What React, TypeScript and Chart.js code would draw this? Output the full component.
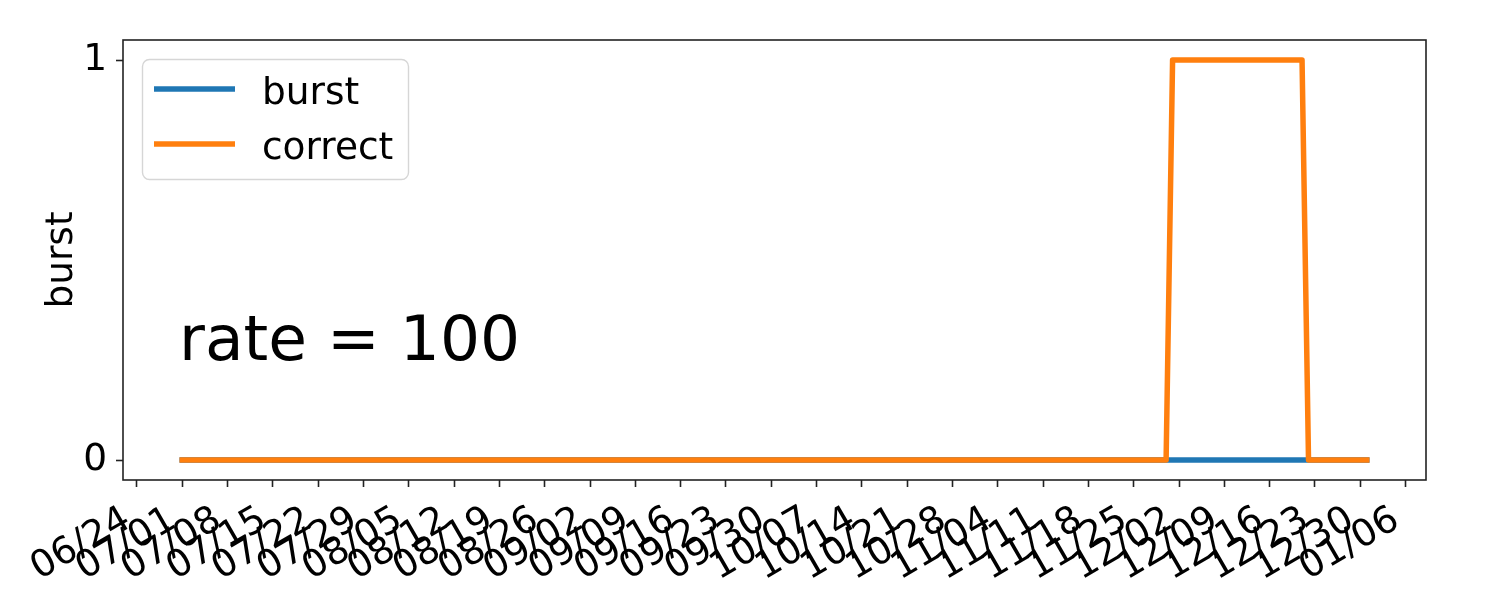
import React, { useEffect, useRef } from "react";
import { Chart, registerables } from "chart.js";

Chart.register(...registerables);

// ---- data (daily values, first day = startDate) ----
const startDate = "2019-07-01";
const seriesNames = ["burst", "correct"];
const seriesColors = ["#1f77b4", "#ff7f0e"];

const burst = [
  // Jul
  0,0,0,0,0,0,0,0,0,0, 0,0,0,0,0,0,0,0,0,0, 0,0,0,0,0,0,0,0,0,0, 0,
  // Aug
  0,0,0,0,0,0,0,0,0,0, 0,0,0,0,0,0,0,0,0,0, 0,0,0,0,0,0,0,0,0,0, 0,
  // Sep
  0,0,0,0,0,0,0,0,0,0, 0,0,0,0,0,0,0,0,0,0, 0,0,0,0,0,0,0,0,0,0,
  // Oct
  0,0,0,0,0,0,0,0,0,0, 0,0,0,0,0,0,0,0,0,0, 0,0,0,0,0,0,0,0,0,0, 0,
  // Nov
  0,0,0,0,0,0,0,0,0,0, 0,0,0,0,0,0,0,0,0,0, 0,0,0,0,0,0,0,0,0,0,
  // Dec
  0,0,0,0,0,0,0,0,0,0, 0,0,0,0,0,0,0,0,0,0, 0,0,0,0,0,0,0,0,0,0, 0,
];

const correct = [
  // Jul
  0,0,0,0,0,0,0,0,0,0, 0,0,0,0,0,0,0,0,0,0, 0,0,0,0,0,0,0,0,0,0, 0,
  // Aug
  0,0,0,0,0,0,0,0,0,0, 0,0,0,0,0,0,0,0,0,0, 0,0,0,0,0,0,0,0,0,0, 0,
  // Sep
  0,0,0,0,0,0,0,0,0,0, 0,0,0,0,0,0,0,0,0,0, 0,0,0,0,0,0,0,0,0,0,
  // Oct
  0,0,0,0,0,0,0,0,0,0, 0,0,0,0,0,0,0,0,0,0, 0,0,0,0,0,0,0,0,0,0, 0,
  // Nov
  0,0,0,0,0,0,0,0,0,0, 0,0,0,0,0,0,0,0,0,0, 0,0,0,0,0,0,0,0,0,0,
  // Dec
  1,1,1,1,1,1,1,1,1,1, 1,1,1,1,1,1,1,1,1,1, 1,0,0,0,0,0,0,0,0,0, 0,
];

const tickDates = [
  "2019-06-24", "2019-07-01", "2019-07-08", "2019-07-15", "2019-07-22",
  "2019-07-29", "2019-08-05", "2019-08-12", "2019-08-19", "2019-08-26",
  "2019-09-02", "2019-09-09", "2019-09-16", "2019-09-23", "2019-09-30",
  "2019-10-07", "2019-10-14", "2019-10-21", "2019-10-28", "2019-11-04",
  "2019-11-11", "2019-11-18", "2019-11-25", "2019-12-02", "2019-12-09",
  "2019-12-16", "2019-12-23", "2019-12-30", "2020-01-06",
];
const tickLabels = [
  "06/24", "07/01", "07/08", "07/15", "07/22",
  "07/29", "08/05", "08/12", "08/19", "08/26",
  "09/02", "09/09", "09/16", "09/23", "09/30",
  "10/07", "10/14", "10/21", "10/28", "11/04",
  "11/11", "11/18", "11/25", "12/02", "12/09",
  "12/16", "12/23", "12/30", "01/06",
];
const yTicks = [0, 1];
const yTitle = "burst";
const annotation = "rate = 100";

const FONT = "'DejaVu Sans', 'Liberation Sans', sans-serif";
const FS = 37.5;
const DAY = 86400000;
const dayNum = (s: string) =>
  Date.UTC(+s.slice(0, 4), +s.slice(5, 7) - 1, +s.slice(8, 10)) / DAY;

const overlay = {
  id: "overlay",
  afterDraw(chart: any) {
    const { ctx, chartArea: a, scales } = chart;
    ctx.save();
    // frame (spines)
    ctx.strokeStyle = "#222";
    ctx.lineWidth = 1.6;
    ctx.strokeRect(a.left, a.top, a.right - a.left, a.bottom - a.top);

    // annotation text
    ctx.fillStyle = "#000";
    ctx.font = `63px ${FONT}`;
    ctx.textAlign = "left";
    ctx.textBaseline = "alphabetic";
    ctx.fillText(annotation, a.left + 56, scales.y.getPixelForValue(0.25));

    // legend
    const bx = a.left + 19.5;
    const by = a.top + 19.5;
    const bw = 266;
    const bh = 120;
    const r = 7;
    ctx.beginPath();
    ctx.moveTo(bx + r, by);
    ctx.lineTo(bx + bw - r, by);
    ctx.arcTo(bx + bw, by, bx + bw, by + r, r);
    ctx.lineTo(bx + bw, by + bh - r);
    ctx.arcTo(bx + bw, by + bh, bx + bw - r, by + bh, r);
    ctx.lineTo(bx + r, by + bh);
    ctx.arcTo(bx, by + bh, bx, by + bh - r, r);
    ctx.lineTo(bx, by + r);
    ctx.arcTo(bx, by, bx + r, by, r);
    ctx.closePath();
    ctx.fillStyle = "rgba(255,255,255,0.8)";
    ctx.fill();
    ctx.strokeStyle = "#d6d6d6";
    ctx.lineWidth = 1.4;
    ctx.stroke();

    ctx.font = `${FS}px ${FONT}`;
    seriesNames.forEach((name, i) => {
      const ly = a.top + 49 + i * 55;
      ctx.strokeStyle = seriesColors[i];
      ctx.lineWidth = 5.5;
      ctx.lineCap = "butt";
      ctx.beginPath();
      ctx.moveTo(a.left + 31, ly);
      ctx.lineTo(a.left + 112, ly);
      ctx.stroke();
      ctx.fillStyle = "#000";
      ctx.fillText(name, a.left + 139, ly + 14.5);
    });
    ctx.restore();
  },
};

export default function App() {
  const ref = useRef<HTMLCanvasElement | null>(null);

  useEffect(() => {
    if (!ref.current) return;
    const x0 = dayNum(startDate);
    const mk = (vals: number[]) => vals.map((v, i) => ({ x: x0 + i, y: v }));
    const xFirst = x0;
    const xLast = x0 + correct.length - 1;
    const span = xLast - xFirst;
    const tickVals = tickDates.map(dayNum);

    const chart = new Chart(ref.current, {
      type: "line",
      data: {
        datasets: [
          {
            label: seriesNames[0],
            data: mk(burst),
            borderColor: seriesColors[0],
            backgroundColor: seriesColors[0],
            borderWidth: 5.5,
            pointRadius: 0,
            tension: 0,
            borderCapStyle: "square",
            borderJoinStyle: "round",
            order: 1,
          },
          {
            label: seriesNames[1],
            data: mk(correct),
            borderColor: seriesColors[1],
            backgroundColor: seriesColors[1],
            borderWidth: 5.5,
            pointRadius: 0,
            tension: 0,
            borderCapStyle: "square",
            borderJoinStyle: "round",
            order: 0,
          },
        ],
      },
      options: {
        responsive: false,
        animation: false,
        parsing: false as any,
        layout: { padding: { left: 0, top: 40, right: 74, bottom: 0 } },
        plugins: {
          legend: { display: false },
          tooltip: { enabled: false },
        },
        scales: {
          x: {
            type: "linear",
            min: xFirst - 0.05 * span,
            max: xLast + 0.05 * span,
            border: { display: false },
            grid: {
              drawOnChartArea: false,
              drawTicks: true,
              tickLength: 7,
              tickColor: "#222",
              tickWidth: 1.6,
            },
            ticks: {
              autoSkip: false,
              minRotation: 30,
              maxRotation: 30,
              padding: 11,
              labelOffset: -9,
              color: "#000",
              font: { family: FONT, size: FS },
              callback: (v: any) => {
                const idx = tickVals.indexOf(Number(v));
                return idx >= 0 ? tickLabels[idx] : "";
              },
            },
            afterBuildTicks: (scale: any) => {
              scale.ticks = tickVals.map((v) => ({ value: v }));
            },
            afterFit: (scale: any) => {
              scale.height = 120;
            },
          },
          y: {
            type: "linear",
            min: -0.05,
            max: 1.05,
            border: { display: false },
            grid: {
              drawOnChartArea: false,
              drawTicks: true,
              tickLength: 7,
              tickColor: "#222",
              tickWidth: 1.6,
            },
            ticks: {
              padding: 9,
              color: "#000",
              font: { family: FONT, size: FS },
              callback: (v: any) => String(v),
            },
            title: {
              display: true,
              text: yTitle,
              color: "#000",
              font: { family: FONT, size: FS },
              padding: { top: 40, bottom: 0 },
            },
            afterBuildTicks: (scale: any) => {
              scale.ticks = yTicks.map((v) => ({ value: v }));
            },
            afterFit: (scale: any) => {
              scale.width = 123;
            },
          },
        },
      },
      plugins: [overlay],
    });
    return () => chart.destroy();
  }, []);

  return (
    <div style={{ position: "absolute", left: 0, top: 0, width: 1500, height: 600, background: "#fff" }}>
      <canvas ref={ref} width={1500} height={600} style={{ display: "block" }} />
    </div>
  );
}
